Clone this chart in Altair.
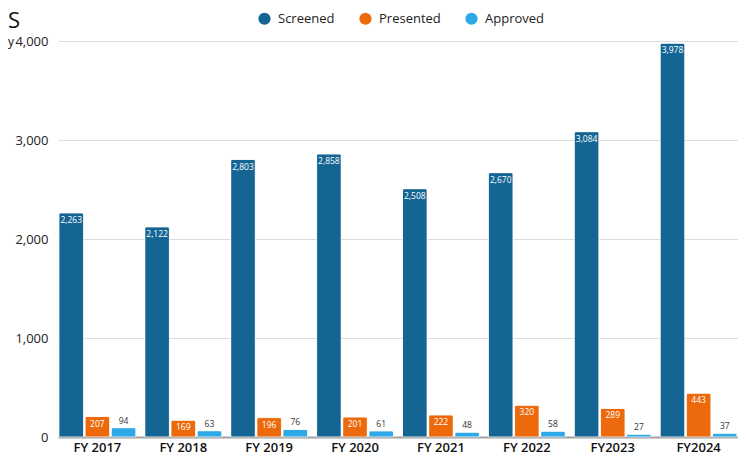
import altair as alt
import pandas as pd

years = ["FY 2017", "FY 2018", "FY 2019", "FY 2020", "FY 2021", "FY 2022", "FY2023", "FY2024"]
series = ["Screened", "Presented", "Approved"]
screened = [2263, 2122, 2803, 2858, 2508, 2670, 3084, 3978]
presented = [207, 169, 196, 201, 222, 320, 289, 443]
approved = [94, 63, 76, 61, 48, 58, 27, 37]
colors = ["#156594", "#EC6A0C", "#2EA8E6"]
y_ticks = [0, 1000, 2000, 3000, 4000]

rows = []
for i, y in enumerate(years):
    for s, vals in zip(series, [screened, presented, approved]):
        rows.append({"year": y, "series": s, "value": vals[i]})
df = pd.DataFrame(rows)

FONT = "Open Sans"

base = alt.Chart(df).encode(
    x=alt.X("year:N", sort=years,
            scale=alt.Scale(paddingInner=0.105, paddingOuter=0.011),
            axis=alt.Axis(title=None, labelAngle=0, domain=True, domainColor="#a0a0a0",
                          domainWidth=2, ticks=False, labelFontSize=13, labelFontWeight=600,
                          labelColor="#111111", labelPadding=4, grid=False)),
    xOffset=alt.XOffset("series:N", sort=series, scale=alt.Scale(paddingInner=0.06, paddingOuter=0)),
    y=alt.Y("value:Q", scale=alt.Scale(domain=[0, 4000], nice=False),
            axis=alt.Axis(title=None, values=y_ticks, format=",.0f",
                          domain=False, ticks=False, grid=True, gridColor="#dcdcdc",
                          labelPadding=10, labelFontSize=13, labelColor="#222222")),
)

bars = base.mark_bar(cornerRadiusTopLeft=2, cornerRadiusTopRight=2,
                     stroke="#ffffff", strokeWidth=0.8, strokeOpacity=0.6).encode(
    color=alt.Color("series:N", sort=series,
                    scale=alt.Scale(domain=series, range=colors),
                    legend=alt.Legend(title=None, orient="none", direction="horizontal",
                                      legendX=200, legendY=-29, symbolType="circle",
                                      symbolSize=150, symbolStrokeWidth=0,
                                      labelFontSize=13, labelColor="#222222",
                                      columnPadding=24, labelOffset=7))
)

inside = base.transform_filter(alt.datum.series != "Approved").mark_text(
    baseline="top", dy=3, color="white", fontSize=8.5, fontWeight=500
).encode(text=alt.Text("value:Q", format=","))

above = base.transform_filter(alt.datum.series == "Approved").mark_text(
    baseline="bottom", dy=-2, color="#333333", fontSize=8.5, fontWeight=500
).encode(text=alt.Text("value:Q", format=","))

chart = alt.layer(bars, inside, above).properties(
    width=680, height=396,
    title=alt.Title("S", subtitle="y", anchor="start", frame="group", dx=-50,
                    fontSize=22, fontWeight="normal", color="#111111",
                    subtitleFontSize=12, subtitleColor="#111111", subtitlePadding=4,
                    offset=-37),
    autosize=alt.AutoSizeParams(type="none"),
    padding={"left": 50, "top": 33, "right": 0, "bottom": 21},
).configure(font=FONT).configure_view(stroke=None)

chart.save("out.html", embed_options={"renderer": "svg", "actions": False})
